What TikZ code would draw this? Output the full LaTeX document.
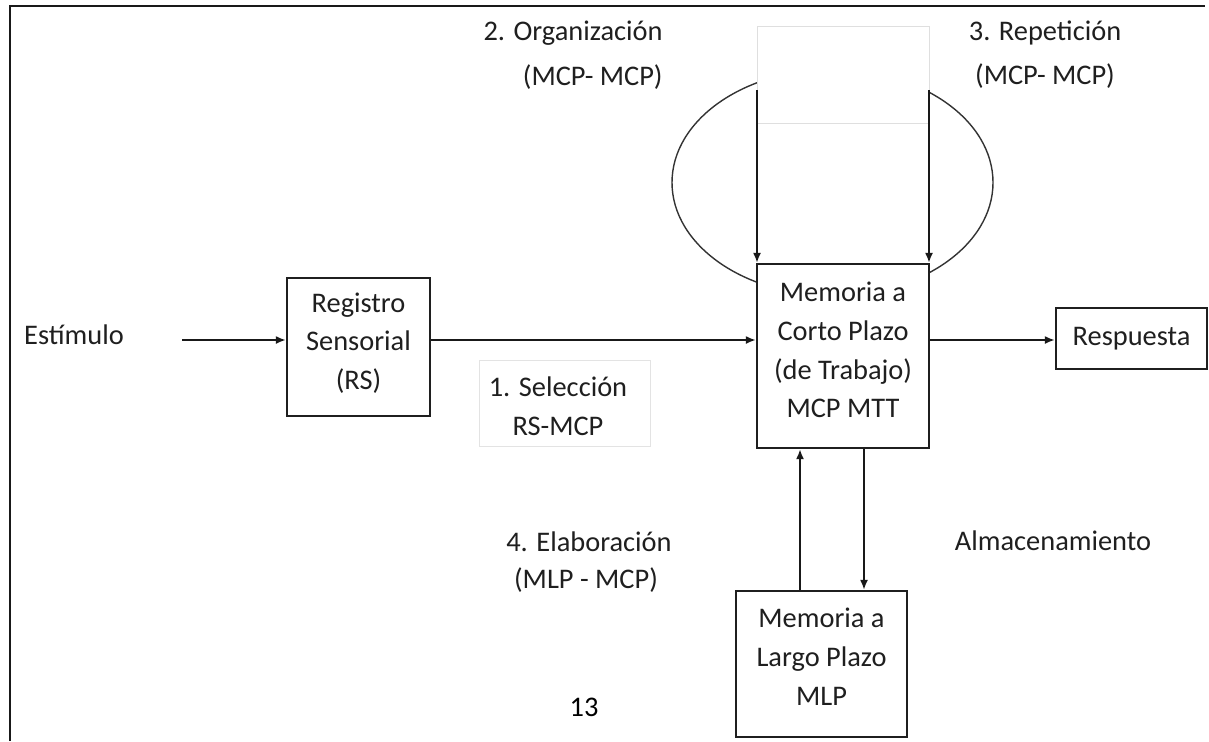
\documentclass[tikz,border=0pt]{standalone}
\usepackage{fontspec}
\setmainfont{Carlito}
\usetikzlibrary{arrows.meta}
\begin{document}
\begin{tikzpicture}[x=0.5pt,y=-0.5pt,
  txt/.style={text=black!88, font=\fontsize{14.2pt}{19.4pt}\selectfont, inner sep=0pt, align=center},
  boxn/.style={draw=black!88, line width=1.1pt, fill=white, inner sep=0pt},
  faintbox/.style={draw=gray!22, line width=0.4pt, fill=white, inner sep=0pt},
  arr/.style={draw=black!90, line width=1.3pt, -{Latex[length=5pt,width=4pt]}}
  ]
\useasboundingbox (0,0) rectangle (1209,741);
\fill[white] (0,0) rectangle (1209,741);
% page frame
\draw[black!90, line width=1.4pt] (10,741) -- (10,6) -- (1205,6);
% loop ellipse
\draw[black!80, line width=0.7pt] (832.5,182.5) ellipse [x radius=80.25pt, y radius=56.5pt];
% white cover over the top of the ellipse
\fill[white] (757,26) rectangle (929,264);
\draw[gray!25, line width=0.4pt] (757,26) rectangle (929,123);

% boxes
\node[boxn, minimum width=71.5pt, minimum height=69pt] (rs) at (358.5,347) {};
\node[txt] (rst) at (358.5,343) {Registro\\Sensorial\\(RS)};
\node[boxn, minimum width=86pt, minimum height=92pt] (mcp) at (843,356) {};
\node[txt] (mcpt) at (843,350) {Memoria a\\Corto Plazo\\(de Trabajo)\\MCP MTT};
\node[boxn, txt, draw=black!88, minimum width=75.5pt, minimum height=30.5pt] (resp) at (1131.5,338.5) {Respuesta};
\node[boxn, minimum width=85.5pt, minimum height=73pt] (mlp) at (821.5,664) {};
\node[txt] (mlpt) at (821.5,656.5) {Memoria a\\Largo Plazo\\MLP};
\node[faintbox, minimum width=85.5pt, minimum height=43pt] (sel) at (564.5,403) {};
\node[txt] (selt) at (558,406) {1. Selección\\RS-MCP};

% labels
\node[txt] (estim) at (74,335) {Estímulo};
\node[txt, anchor=east] (org1) at (663,33) {2. Organización};
\node[txt, anchor=east] (org2) at (663,77) {(MCP- MCP)};
\node[txt] (rep1) at (1045,33) {3. Repetición};
\node[txt] (rep2) at (1045,76) {(MCP- MCP)};
\node[txt] (ela1) at (589,542) {4. Elaboración};
\node[txt] (ela2) at (586,580) {(MLP - MCP)};
\node[txt] (alm) at (1053,541) {Almacenamiento};
\node[txt, text=black] (pg) at (584,707) {13};

% connectors
\coordinate (ein) at (182,340);
\draw[arr] (ein) -- (ein -| rs.west);
\draw[arr] (ein -| rs.east) -- (ein -| mcp.west);
\draw[arr] (ein -| mcp.east) -- (ein -| resp.west);
\coordinate (tl) at (757,90);
\coordinate (tr) at (929,90);
\draw[arr] (tl) -- (tl |- mcp.north);
\draw[arr] (tr) -- (tr |- mcp.north);
\coordinate (ux) at (800,520);
\coordinate (dx) at (864,520);
\draw[arr] (ux |- mlp.north) -- (ux |- mcp.south);
\draw[arr] (dx |- mcp.south) -- (dx |- mlp.north);
\end{tikzpicture}
\end{document}
